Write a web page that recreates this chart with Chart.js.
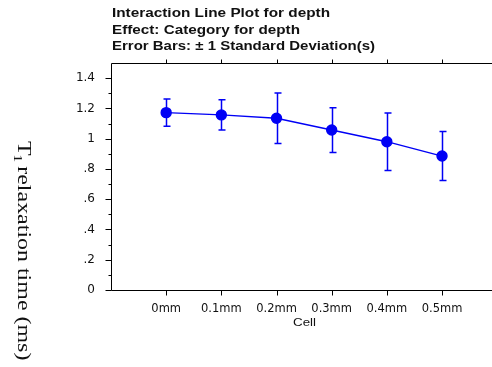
<!DOCTYPE html>
<html>
<head>
<meta charset="utf-8">
<script src="https://cdn.jsdelivr.net/npm/chart.js@4"></script>
<style>
  html, body { margin: 0; padding: 0; background: #fff; }
  #wrap { width: 492px; height: 367px; }
</style>
</head>
<body>
<div id="wrap"><canvas id="myChart"></canvas></div>
<script>
// data
const cells = ['0mm', '0.1mm', '0.2mm', '0.3mm', '0.4mm', '0.5mm'];
const means = [1.172, 1.157, 1.135, 1.057, 0.98, 0.885];
const sds = [0.09, 0.10, 0.167, 0.148, 0.19, 0.162];
const yTicks = [0, 0.2, 0.4, 0.6, 0.8, 1, 1.2, 1.4];
const titleLines = ['Interaction Line Plot for depth', 'Effect: Category for depth', 'Error Bars: \u00b1 1 Standard Deviation(s)'];
const titleWidths = [218, 188, 263];

const blue = '#0000f5';

// text squeezed/stretched to a given width (the picture's text is wide)
function wideText(ctx, s, x, y, w) {
  const m = ctx.measureText(s).width;
  ctx.save();
  ctx.translate(x, y);
  ctx.scale(w / m, 1);
  ctx.fillText(s, 0, 0);
  ctx.restore();
}

// axes lines, minor ticks, error bars and titles
const extras = {
  id: 'extras',
  beforeDatasetsDraw(chart) {
    const ctx = chart.ctx, x = chart.scales.x, y = chart.scales.y;
    ctx.save();
    ctx.strokeStyle = blue;
    ctx.lineWidth = 1.5;
    means.forEach((m, i) => {
      const px = Math.round(x.getPixelForValue(i)) + 0.5;
      const t = y.getPixelForValue(m + sds[i]);
      const b = y.getPixelForValue(m - sds[i]);
      ctx.beginPath();
      ctx.moveTo(px, t); ctx.lineTo(px, b);
      ctx.moveTo(px - 3, t); ctx.lineTo(px + 4, t);
      ctx.moveTo(px - 3, b); ctx.lineTo(px + 4, b);
      ctx.stroke();
    });
    ctx.restore();
  },
  afterDraw(chart) {
    const ctx = chart.ctx, x = chart.scales.x, y = chart.scales.y;
    const a = chart.chartArea;
    ctx.save();
    ctx.strokeStyle = '#000';
    ctx.lineWidth = 1;
    const L = Math.round(a.left) + 0.5, T = Math.round(a.top) + 0.5, B = Math.round(a.bottom) + 0.5;
    ctx.beginPath();
    ctx.moveTo(L, T); ctx.lineTo(chart.width, T);
    ctx.moveTo(L, T); ctx.lineTo(L, B);
    ctx.moveTo(L, B); ctx.lineTo(chart.width, B);
    // y ticks, major and minor
    for (let k = 0; k <= 14; k++) {
      const py = Math.round(y.getPixelForValue(k / 10)) + 0.5;
      const len = k % 2 === 0 ? 6 : 3;
      ctx.moveTo(L - len, py); ctx.lineTo(L, py);
    }
    // x ticks top and bottom
    cells.forEach((c, i) => {
      const px = Math.round(x.getPixelForValue(i)) + 0.5;
      ctx.moveTo(px, B); ctx.lineTo(px, B + 5);
      ctx.moveTo(px, T); ctx.lineTo(px, T - 4);
    });
    ctx.stroke();

    ctx.fillStyle = '#111';
    ctx.font = 'bold 12px "Liberation Sans", Arial, sans-serif';
    ctx.textBaseline = 'alphabetic';
    ctx.textAlign = 'left';
    titleLines.forEach((s, i) => wideText(ctx, s, 112, 17 + i * 16.5, titleWidths[i]));

    ctx.font = '11px "Liberation Sans", Arial, sans-serif';
    wideText(ctx, 'Cell', 293, 326, 23);

    // rotated y title, reads top to bottom
    ctx.translate(18, 141);
    ctx.rotate(Math.PI / 2);
    ctx.scale(1.33, 1);
    ctx.font = '18px "Liberation Serif", "Times New Roman", serif';
    ctx.fillText('T', 0, 0);
    let w = ctx.measureText('T').width - 1;
    ctx.font = '12px "Liberation Serif", "Times New Roman", serif';
    ctx.fillText('1', w, 4);
    w += ctx.measureText('1').width + 3;
    ctx.font = '18px "Liberation Serif", "Times New Roman", serif';
    ctx.fillText('relaxation time (ms)', w, 0);
    ctx.restore();
  }
};

const data = {
  datasets: [{
    data: means.map((m, i) => ({ x: i, y: m })),
    borderColor: blue,
    backgroundColor: blue,
    borderWidth: 1.4,
    pointRadius: 5,
    pointHoverRadius: 5,
    tension: 0
  }]
};

const config = {
  type: 'line',
  data: data,
  options: {
    responsive: true,
    maintainAspectRatio: false,
    animation: false,
    layout: { autoPadding: false, padding: { top: 63, right: 0, bottom: 0, left: 0 } },
    plugins: { legend: { display: false }, tooltip: { enabled: false } },
    scales: {
      x: {
        type: 'linear',
        min: -1,
        max: 5.906,
        afterFit: s => { s.height = 77; },
        afterBuildTicks: s => { s.ticks = cells.map((c, i) => ({ value: i })); },
        grid: { display: false, drawTicks: false },
        border: { display: false },
        ticks: {
          padding: 12,
          maxRotation: 0,
          autoSkip: false,
          color: '#111',
          font: { family: '"DejaVu Sans", sans-serif', size: 11.5 },
          callback: v => cells[v]
        }
      },
      y: {
        min: 0,
        max: 1.5,
        afterFit: s => { s.width = 111; },
        afterBuildTicks: s => { s.ticks = yTicks.map(v => ({ value: v })); },
        grid: { display: false, drawTicks: false },
        border: { display: false },
        ticks: {
          padding: 16,
          color: '#111',
          font: { family: '"DejaVu Sans", sans-serif', size: 12 },
          callback: v => {
            const s = String(Math.round(v * 10) / 10);
            return s.startsWith('0.') ? s.slice(1) : s;
          }
        }
      }
    }
  },
  plugins: [extras]
};

new Chart(document.getElementById('myChart'), config);
</script>
</body>
</html>
